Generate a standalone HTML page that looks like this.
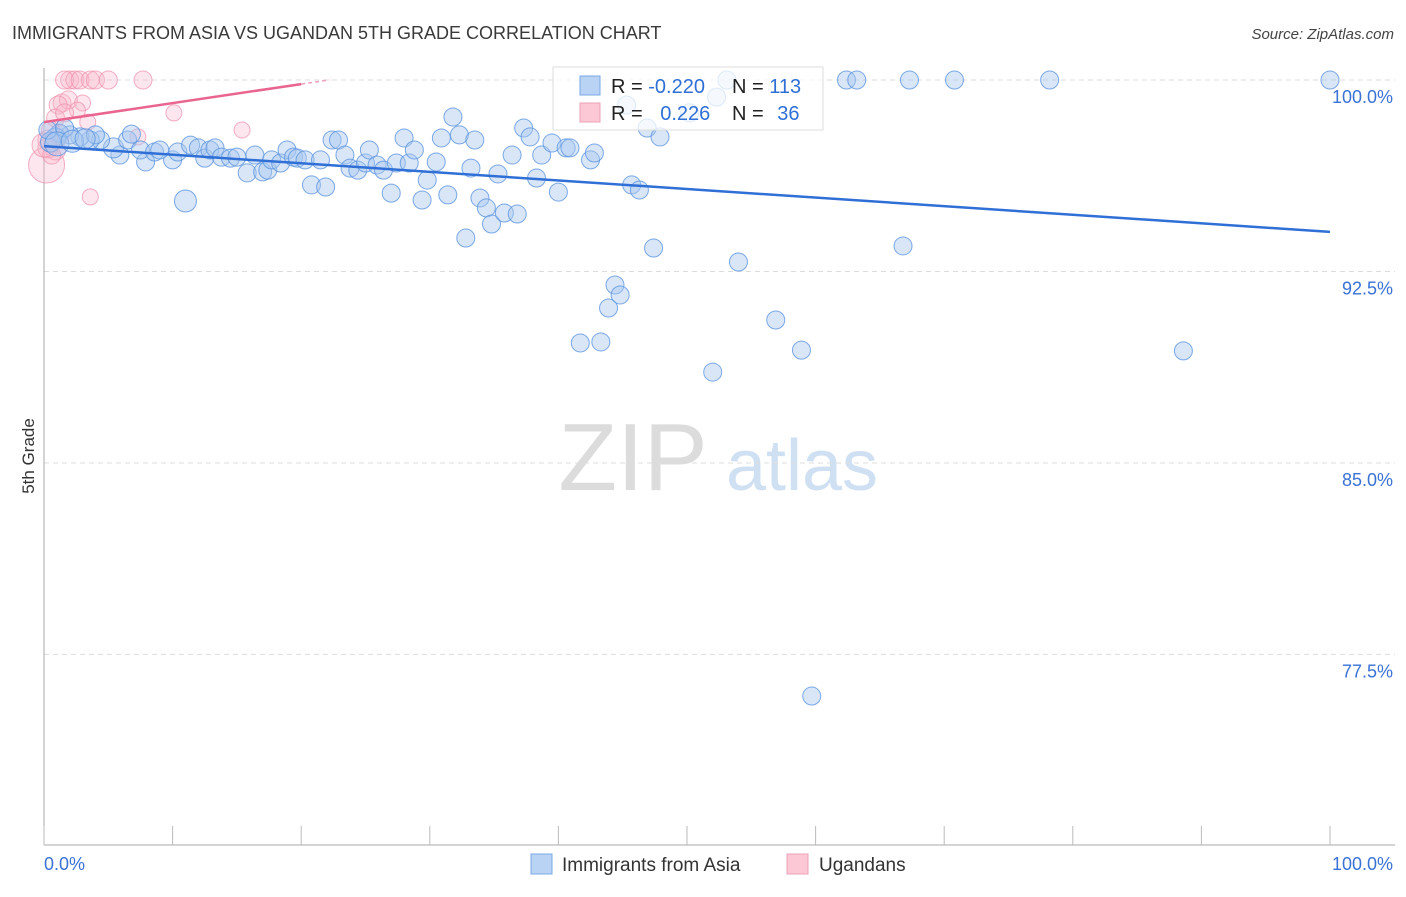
<!DOCTYPE html>
<html><head><meta charset="utf-8"><style>
body{margin:0;background:#fff;font-family:"Liberation Sans",sans-serif;}
svg text{font-family:"Liberation Sans",sans-serif;}
</style></head><body>
<svg id="chart" width="1406" height="892" viewBox="0 0 1406 892" xmlns="http://www.w3.org/2000/svg">
<text x="12" y="39" font-size="18" fill="#3a3a3a">IMMIGRANTS FROM ASIA VS UGANDAN 5TH GRADE CORRELATION CHART</text>
<text x="1394" y="39" font-size="15" font-style="italic" fill="#444" text-anchor="end">Source: ZipAtlas.com</text>
<g>
<text x="633" y="490" font-size="96" fill="#dcdcdc" font-family="Liberation Serif" text-anchor="middle">ZIP</text>
<text x="802" y="490" font-size="72" fill="#cfe0f3" text-anchor="middle">atlas</text>
</g>
<g id="grid"></g>
<g id="axes"></g>
<g id="pink"></g>
<g id="blue"></g>
<g id="lines"></g>
<text transform="translate(34,456) rotate(-90)" font-size="17" fill="#333" text-anchor="middle">5th Grade</text>
<g>
<rect x="553" y="67" width="270" height="63" fill="#fff" fill-opacity="0.75" stroke="#ddd"/>
<rect x="580" y="76" width="20" height="19" fill="#b9d3f5" stroke="#7aa7e6"/>
<rect x="580" y="103" width="20" height="19" fill="#fcc8d6" stroke="#eea0b6"/>
<text x="611" y="93" font-size="20" fill="#222">R = <tspan fill="#2f6fd6">-0.220</tspan></text>
<text x="732" y="93" font-size="20" fill="#222">N = <tspan fill="#2f6fd6">113</tspan></text>
<text x="611" y="120" font-size="20" fill="#222">R = <tspan fill="#2f6fd6" dx="12">0.226</tspan></text>
<text x="732" y="120" font-size="20" fill="#222">N = <tspan fill="#2f6fd6" dx="8">36</tspan></text>
</g>
<g>
<rect x="531" y="854" width="21" height="20" fill="#b9d3f5" stroke="#7aa7e6"/>
<text x="562" y="871" font-size="19" fill="#333">Immigrants from Asia</text>
</g>
<g>
<rect x="787" y="854" width="21" height="20" fill="#fcc8d6" stroke="#eea0b6"/>
<text x="819" y="871" font-size="19" fill="#333">Ugandans</text>
</g>
</svg>
<script>
const yTicks=[100,92.5,85,77.5];
const yTickLabels=["100.0%","92.5%","85.0%","77.5%"];
const xTickLabels=["0.0%","100.0%"];
const blueX=[11.0,10.0,7.9,5.9,5.4,6.5,6.8,4.4,3.6,2.8,2.0,1.2,0.9,0.5,0.3,1.6,4.0,7.5,8.6,9.0,10.4,11.4,12.0,12.5,12.9,13.3,13.8,14.5,15.0,15.8,16.4,17.0,17.4,17.7,18.4,18.9,19.4,19.7,20.3,20.8,21.5,21.9,22.4,22.9,23.4,23.8,24.4,25.0,25.3,25.9,26.4,27.0,27.4,28.0,28.4,28.8,29.4,29.8,30.5,30.9,31.4,31.8,32.3,32.8,33.2,33.5,33.9,34.4,34.8,35.3,35.8,36.4,36.8,37.3,37.8,38.3,38.7,39.5,40.0,40.6,40.9,41.7,42.5,42.8,43.3,43.9,44.4,44.8,45.3,45.7,46.3,46.9,47.4,47.9,50.2,52.0,52.3,53.1,54.0,56.9,58.9,59.7,62.4,63.2,66.8,67.3,70.8,78.2,88.6,100,1.0,2.2,3.2];
const blueY=[95.26,96.87,96.79,97.06,97.34,97.65,97.88,97.65,97.65,97.77,97.85,97.92,97.73,97.57,98.04,98.12,97.85,97.26,97.18,97.26,97.18,97.45,97.34,96.94,97.26,97.34,96.98,96.94,96.98,96.36,97.06,96.40,96.47,96.87,96.75,97.26,96.98,96.94,96.87,95.89,96.87,95.81,97.65,97.65,97.06,96.55,96.47,96.75,97.26,96.67,96.47,95.57,96.75,97.73,96.75,97.26,95.30,96.08,96.79,97.73,95.50,98.55,97.85,93.81,96.55,97.65,95.38,94.99,94.36,96.32,94.79,97.06,94.75,98.12,97.77,96.16,97.06,97.53,95.61,97.34,97.34,89.70,96.87,97.14,89.74,91.07,91.97,91.58,99.02,95.89,95.69,98.12,93.42,97.77,98.71,88.56,99.33,100,92.87,90.60,89.42,75.87,100,100,93.50,100,100,100,89.39,100,97.5,97.6,97.7];
const blueSize=[11,9,9,9,10,9,9,9,9,9,9,9,10,10,9,9,9,9,9,9,9,9,9,9,9,9,9,9,9,9,9,9,9,9,9,9,9,9,9,9,9,9,9,9,9,9,9,9,9,9,9,9,9,9,9,9,9,9,9,9,9,9,9,9,9,9,9,9,9,9,9,9,9,9,9,9,9,9,9,9,9,9,9,9,9,9,9,9,9,9,9,9,9,9,9,9,9,9,9,9,9,9,9,9,9,9,9,9,9,9,12,11,10];
const pinkX=[2.0,2.4,1.6,2.8,3.6,4.0,5.0,7.7,1.4,1.9,1.1,3.0,2.6,0.9,1.6,3.4,10.1,15.4,7.3,3.6,0.3,0.2,0.9,0.5,1.2,0.3,0.6,0];
const pinkY=[100,100,100,100,100,100,100,100,99.10,99.22,99.02,99.10,98.82,98.51,98.71,98.35,98.71,98.04,97.77,95.42,97.65,96.67,97.26,98.04,97.85,97.34,97.06,97.45];
const pinkSize=[9,9,9,9,9,9,9,9,9,9,9,8,8,9,9,8,8,8,8,8,10,18,10,9,10,10,9,12];
const blueTrend=[97.41,94.05];
const pinkTrend=[98.35,99.84];
const NS="http://www.w3.org/2000/svg";
const X0=44,X1=1330,YTOP=80,PXPER=25.53;
function sx(v){return X0+(X1-X0)*v/100;}
function sy(v){return YTOP+(100-v)*PXPER;}
function mk(tag,attrs,parent){const e=document.createElementNS(NS,tag);for(const k in attrs)e.setAttribute(k,attrs[k]);parent.appendChild(e);return e;}
const grid=document.getElementById('grid');
yTicks.forEach((t,i)=>{
 const l=mk('line',{x1:44,x2:1395,y1:sy(t),y2:sy(t),stroke:'#dcdcdc','stroke-dasharray':'5,4'},grid);
 
 
 const tx=mk('text',{x:1393,y:sy(t)+23,'font-size':18,fill:'#3a72d6','text-anchor':'end'},grid);
 tx.textContent=yTickLabels[i];
 
 
});
const axes=document.getElementById('axes');
const ya=mk('line',{x1:44,x2:44,y1:68,y2:845,stroke:'#aaa'},axes);


const xa=mk('line',{x1:44,x2:1395,y1:845,y2:845,stroke:'#aaa'},axes);


for(let i=0;i<=10;i++){
 const tk=mk('line',{x1:sx(i*10),x2:sx(i*10),y1:826,y2:845,stroke:'#bbb'},axes);
 
 
}
const xl0=mk('text',{x:44,y:870,'font-size':18,fill:'#3a72d6'},axes);
xl0.textContent=xTickLabels[0];


const xl1=mk('text',{x:1393,y:870,'font-size':18,fill:'#3a72d6','text-anchor':'end'},axes);
xl1.textContent=xTickLabels[1];


const pg=document.getElementById('pink');
pinkX.forEach((x,i)=>{
 const c=mk('circle',{cx:sx(x),cy:sy(pinkY[i]),r:pinkSize[i],fill:'#f9b8cb','fill-opacity':0.35,stroke:'#ee8fab','stroke-opacity':0.7},pg);
 
 
});
const bg=document.getElementById('blue');
blueX.forEach((x,i)=>{
 const c=mk('circle',{cx:sx(x),cy:sy(blueY[i]),r:blueSize[i],fill:'#a9c8f0','fill-opacity':0.45,stroke:'#5d95e0','stroke-opacity':0.8},bg);
 
 
});
const lg=document.getElementById('lines');
const bl=mk('line',{x1:sx(0),y1:sy(blueTrend[0]),x2:sx(100),y2:sy(blueTrend[1]),stroke:'#2f6fd6','stroke-width':2.5},lg);


const pl=mk('line',{x1:sx(0),y1:sy(pinkTrend[0]),x2:sx(20),y2:sy(pinkTrend[1]),stroke:'#e9658f','stroke-width':2.5},lg);


const slope=(pinkTrend[1]-pinkTrend[0])/20;
const pd=mk('line',{x1:sx(20),y1:sy(pinkTrend[1]),x2:sx(22.2),y2:sy(pinkTrend[0]+slope*22.2),stroke:'#f0a0b8','stroke-width':1.5,'stroke-dasharray':'4,3'},lg);


</script>
</body></html>
